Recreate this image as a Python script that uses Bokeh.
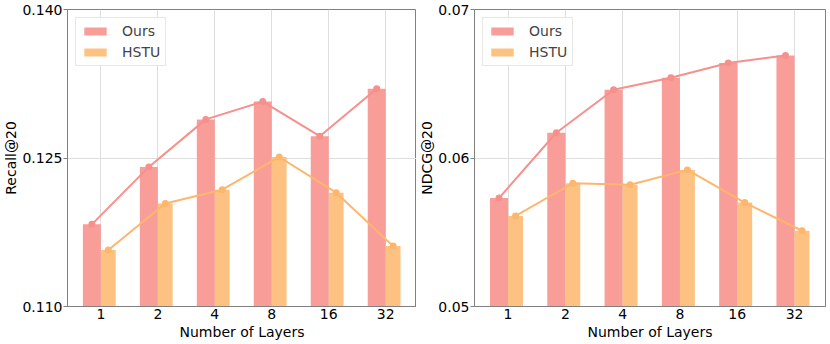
import numpy as np
from bokeh.plotting import figure
from bokeh.layouts import row
from bokeh.models import FixedTicker, Range1d, Legend
from bokeh.embed import file_html
from bokeh.resources import INLINE

# ---- data ----
layers = ["1", "2", "4", "8", "16", "32"]
recall_ours = [0.1183, 0.1241, 0.1289, 0.1307, 0.1272, 0.1320]
recall_hstu = [0.1157, 0.1204, 0.1218, 0.1251, 0.1215, 0.1161]
ndcg_ours = [0.0573, 0.0617, 0.0646, 0.0654, 0.0664, 0.0669]
ndcg_hstu = [0.0561, 0.0583, 0.0582, 0.0592, 0.0570, 0.0551]
recall_ticks = [0.110, 0.125, 0.140]
ndcg_ticks = [0.05, 0.06, 0.07]

# ---- style ----
FONT = "DejaVu Sans"
FS = "14px"
OURS_BAR = "#F99D99"
OURS_LINE = "#F5908C"
HSTU_BAR = "#FDC281"
HSTU_LINE = "#FDB66C"
W_OURS = 0.316
W_HSTU = 0.26
FRAME = "#808080"
GRID = "#dedede"


def make_panel(ours, hstu, ticks, fmt, ylabel, width, height, border_right):
    xs = np.arange(len(layers))
    x_o = xs - W_OURS / 2
    x_h = xs + W_HSTU / 2
    p = figure(width=width, height=height, output_backend="svg",
               toolbar_location=None,
               x_range=Range1d(-0.586, len(layers) - 1 + 0.54),
               y_range=Range1d(ticks[0], ticks[-1]),
               min_border_top=9, min_border_right=border_right,
               min_border_left=0, min_border_bottom=0)
    r1 = p.vbar(x=x_o, top=ours, bottom=ticks[0], width=W_OURS,
                fill_color=OURS_BAR, line_color=None)
    r2 = p.vbar(x=x_h, top=hstu, bottom=ticks[0], width=W_HSTU,
                fill_color=HSTU_BAR, line_color=None)
    p.line(x_o, ours, line_color=OURS_LINE, line_width=2)
    p.scatter(x_o, ours, size=7, fill_color=OURS_LINE, line_color=None)
    p.line(x_h, hstu, line_color=HSTU_LINE, line_width=2)
    p.scatter(x_h, hstu, size=7, fill_color=HSTU_LINE, line_color=None)

    legend = Legend(items=[("Ours", [r1]), ("HSTU", [r2])],
                    location="top_left", margin=8, padding=5, spacing=5,
                    glyph_width=28, glyph_height=10, label_height=16,
                    label_standoff=13, label_text_font=FONT,
                    label_text_font_size=FS,
                    border_line_color="#d0d0d0", border_line_width=1,
                    background_fill_alpha=0.9)
    p.add_layout(legend)

    p.xaxis.ticker = FixedTicker(ticks=list(xs))
    p.xaxis.major_label_overrides = {int(i): lab for i, lab in zip(xs, layers)}
    p.xaxis.axis_label = "Number of Layers"
    p.yaxis.ticker = FixedTicker(ticks=ticks)
    p.yaxis.major_label_overrides = {t: fmt.format(t) for t in ticks}
    p.yaxis.axis_label = ylabel
    for ax in (p.xaxis, p.yaxis):
        ax.axis_label_text_font = FONT
        ax.axis_label_text_font_size = FS
        ax.axis_label_text_font_style = "normal"
        ax.axis_label_text_color = "black"
        ax.major_label_text_font = FONT
        ax.major_label_text_font_size = FS
        ax.major_label_text_color = "black"
        ax.axis_line_color = FRAME
        ax.major_tick_line_color = FRAME
        ax.minor_tick_line_color = None
        ax.major_tick_in = 0
        ax.major_label_standoff = 2
        ax.axis_label_standoff = 2
    p.xaxis.major_tick_out = 0
    p.yaxis.major_tick_out = 4
    p.yaxis.major_label_standoff = 1
    p.yaxis.axis_label_standoff = 0
    p.xgrid.ticker = FixedTicker(ticks=list(xs))
    p.ygrid.ticker = FixedTicker(ticks=ticks)
    p.grid.grid_line_color = GRID
    p.outline_line_color = FRAME
    p.outline_line_width = 1
    return p


p1 = make_panel(recall_ours, recall_hstu, recall_ticks, "{:.3f}", "Recall@20",
                416, 342, 0)
p2 = make_panel(ndcg_ours, ndcg_hstu, ndcg_ticks, "{:.2f}", "NDCG@20",
                412, 342, 3)

layout = row(p1, p2)
open("out.html", "w").write(file_html(layout, INLINE))
